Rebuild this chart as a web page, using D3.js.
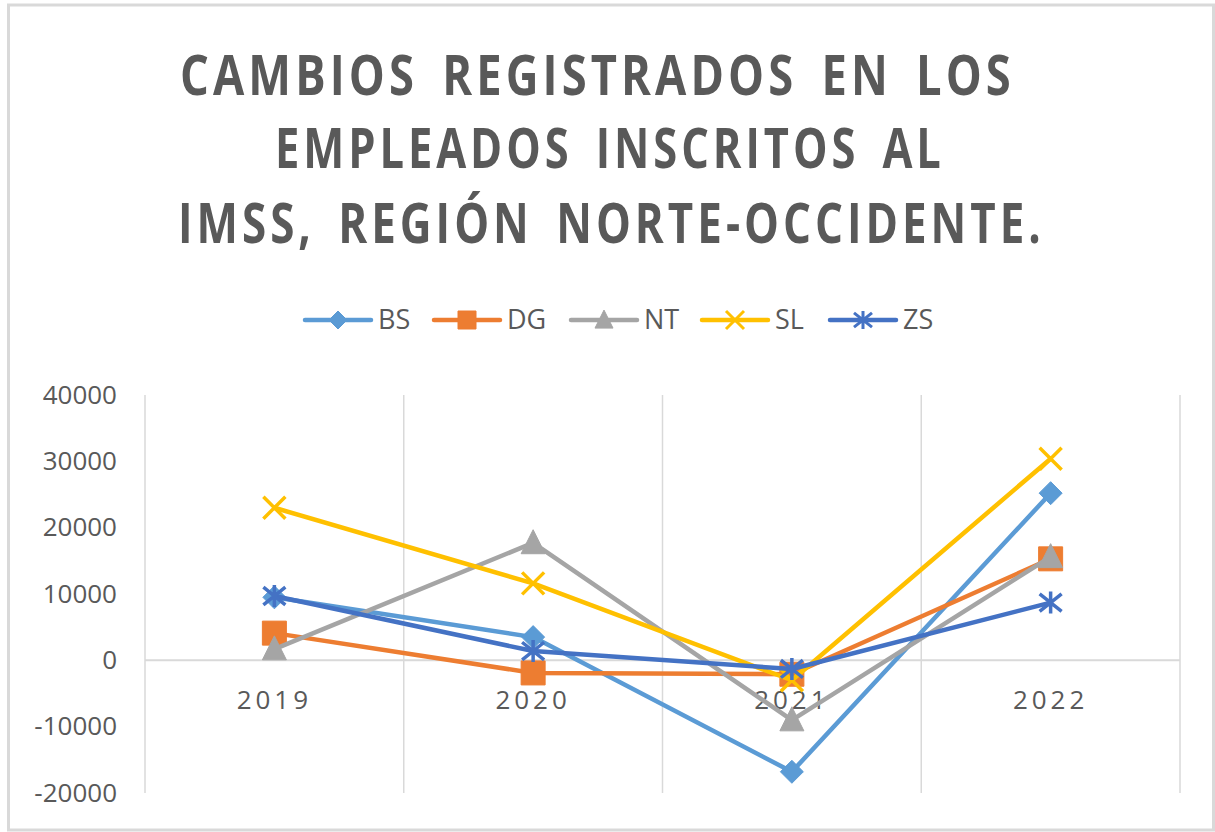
<!DOCTYPE html>
<html>
<head>
<meta charset="utf-8">
<script src="https://cdn.jsdelivr.net/npm/d3@7"></script>
<style>
  body { margin: 0; background: #fff; }
  svg { display: block; }
</style>
</head>
<body>
<div id="chart"></div>
<script>
// data
const years = ["2019", "2020", "2021", "2022"];
const BS = [9500, 3500, -16800, 25200];
const DG = [4100, -1900, -2100, 15300];
const NT = [1700, 17700, -9000, 15600];
const SL = [23000, 11600, -3000, 30400];
const ZS = [9700, 1400, -1300, 8700];
const yTicks = [-20000, -10000, 0, 10000, 20000, 30000, 40000];
const titleLines = ["CAMBIOS REGISTRADOS EN LOS", "EMPLEADOS INSCRITOS AL", "IMSS, REGIÓN NORTE-OCCIDENTE."];

const series = [
  { name: "BS", values: BS, color: "#5B9BD5", marker: "diamond" },
  { name: "DG", values: DG, color: "#ED7D31", marker: "square" },
  { name: "NT", values: NT, color: "#A5A5A5", marker: "triangle" },
  { name: "SL", values: SL, color: "#FFC000", marker: "x" },
  { name: "ZS", values: ZS, color: "#4472C4", marker: "star" }
];

const W = 1215, H = 832;
const plot = { left: 145, right: 1180, top: 395, bottom: 793 };
const textColor = "#595959";
const gridColor = "#D9D9D9";

const svg = d3.select("#chart").append("svg")
  .attr("width", W)
  .attr("height", H);

// outer frame
svg.append("rect")
  .attr("x", 8.5).attr("y", 5)
  .attr("width", 1205).attr("height", 825)
  .attr("fill", "#fff")
  .attr("stroke", gridColor)
  .attr("stroke-width", 3);

// title - narrow letters with wide spacing, squeezed to the original widths
const titleY = [95, 168, 243];
const titleW = [[180, 1015], [275, 945], [178, 1045]];
svg.append("g").selectAll("text")
  .data(titleLines)
  .enter().append("text")
  .attr("x", 0)
  .attr("y", 0)
  .style("font-family", "'Open Sans', sans-serif")
  .style("font-weight", "bold")
  .style("font-size", "55px")
  .style("letter-spacing", "5px")
  .style("word-spacing", "10px")
  .style("fill", textColor)
  .text(d => d)
  .each(function(d, i) {
    const w = this.getBBox().width;
    const sx = (titleW[i][1] - titleW[i][0]) / w;
    d3.select(this).attr("transform", `translate(${titleW[i][0]},${titleY[i]}) scale(${sx},1)`);
  });

// scales
const x = d3.scaleBand().domain(years).range([plot.left, plot.right]).padding(0);
const y = d3.scaleLinear().domain([-20000, 40000]).range([plot.bottom, plot.top]);

// vertical gridlines at category boundaries
const bounds = years.map(d => x(d)).concat([plot.right]);
svg.append("g").selectAll("line")
  .data(bounds)
  .enter().append("line")
  .attr("x1", d => d).attr("x2", d => d)
  .attr("y1", plot.top).attr("y2", plot.bottom)
  .attr("stroke", gridColor)
  .attr("stroke-width", 1.5);

// zero line
svg.append("line")
  .attr("x1", plot.left).attr("x2", plot.right)
  .attr("y1", y(0)).attr("y2", y(0))
  .attr("stroke", gridColor)
  .attr("stroke-width", 2);

// y axis labels
const yAxis = svg.append("g")
  .attr("transform", `translate(${plot.left - 28},0)`)
  .call(d3.axisLeft(y).tickValues(yTicks).tickSize(0).tickPadding(0).tickFormat(d => String(d)));
yAxis.select(".domain").remove();
yAxis.selectAll("text")
  .style("font-family", "'Open Sans', sans-serif")
  .style("font-size", "26px")
  .style("fill", textColor);

// category labels next to zero line
const xAxis = svg.append("g")
  .attr("transform", `translate(0,${y(0)})`)
  .call(d3.axisBottom(x).tickSize(0).tickPadding(30));
xAxis.select(".domain").remove();
xAxis.selectAll("text")
  .style("font-family", "'Open Sans', sans-serif")
  .style("font-size", "26px")
  .style("letter-spacing", "4px")
  .style("fill", textColor);

// marker shapes
function markerPath(type, r) {
  switch (type) {
    case "diamond": return `M0,${-r}L${r},0L0,${r}L${-r},0Z`;
    case "square": return `M${-r},${-r}H${r}V${r}H${-r}Z`;
    case "triangle": return `M0,${-r * 1.1}L${r},${r * 0.9}L${-r},${r * 0.9}Z`;
    case "x": return `M${-r},${-r}L${r},${r}M${-r},${r}L${r},${-r}`;
    case "star": return `M${-r},${-r * 0.8}L${r},${r * 0.8}M${-r},${r * 0.8}L${r},${-r * 0.8}M0,${-r}V${r}`;
  }
}
function markerFill(s) {
  return (s.marker === "x" || s.marker === "star") ? "none" : s.color;
}

const line = d3.line()
  .x((d, i) => x(years[i]) + x.bandwidth() / 2)
  .y(d => y(d));

const sizes = { diamond: 11.5, square: 12, triangle: 12, x: 11, star: 11 };

series.forEach(s => {
  const g = svg.append("g");
  g.append("path")
    .attr("d", line(s.values))
    .attr("fill", "none")
    .attr("stroke", s.color)
    .attr("stroke-width", 4.5)
    .attr("stroke-linejoin", "round")
    .attr("stroke-linecap", "round");
  g.selectAll("path.mk")
    .data(s.values)
    .enter().append("path")
    .attr("class", "mk")
    .attr("transform", (d, i) => `translate(${x(years[i]) + x.bandwidth() / 2},${y(d)})`)
    .attr("d", markerPath(s.marker, sizes[s.marker]))
    .attr("fill", markerFill(s))
    .attr("stroke", s.color)
    .attr("stroke-width", (s.marker === "x" || s.marker === "star") ? 3.5 : 1);
});

// legend
const legendY = 320;
const legendX = [305, 434, 571, 702, 830];
const legend = svg.append("g");
series.forEach((s, i) => {
  const g = legend.append("g").attr("transform", `translate(${legendX[i]},${legendY})`);
  g.append("line")
    .attr("x1", 0).attr("x2", 66)
    .attr("stroke", s.color)
    .attr("stroke-width", 4.5)
    .attr("stroke-linecap", "round");
  g.append("path")
    .attr("transform", "translate(33,0)")
    .attr("d", markerPath(s.marker, 9))
    .attr("fill", markerFill(s))
    .attr("stroke", s.color)
    .attr("stroke-width", (s.marker === "x" || s.marker === "star") ? 3 : 1);
  g.append("text")
    .attr("x", 73)
    .attr("y", 0)
    .attr("dy", "0.35em")
    .style("font-family", "'Open Sans', sans-serif")
    .style("font-size", "27px")
    .style("fill", textColor)
    .text(s.name);
});
</script>
</body>
</html>
